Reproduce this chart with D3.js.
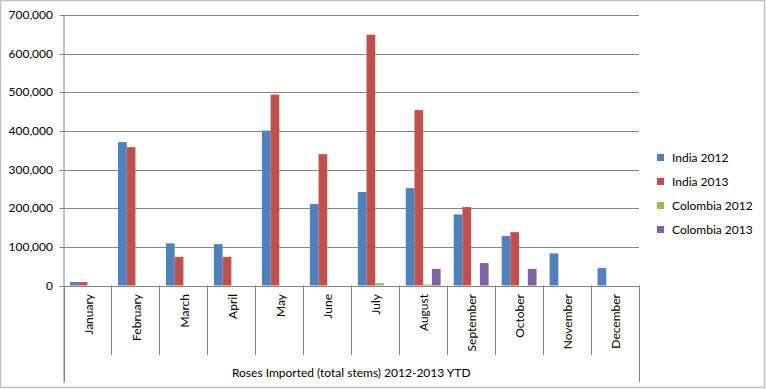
<!DOCTYPE html>
<html>
<head>
<meta charset="utf-8">
<script src="https://cdn.jsdelivr.net/npm/d3@7"></script>
<style>
  body { margin: 0; background: #fff; }
  text { font-family: Lato, "Open Sans", sans-serif; fill: #000; }
</style>
</head>
<body>
<div id="chart-area"></div>
<script>
// dane
var months = ["January", "February", "March", "April", "May", "June",
              "July", "August", "September", "October", "November", "December"];
var seriesNames = ["India 2012", "India 2013", "Colombia 2012", "Colombia 2013"];
var india2012 = [9000, 371000, 109000, 107000, 401000, 211000, 242000, 252000, 184000, 128000, 83000, 45000];
var india2013 = [9000, 358000, 74000, 74000, 494000, 340000, 649000, 454000, 203000, 138000, 0, 0];
var colombia2012 = [0, 0, 0, 0, 0, 0, 6000, 2500, 0, 0, 0, 0];
var colombia2013 = [0, 0, 0, 0, 0, 0, 0, 43000, 58000, 43000, 0, 0];
var yTicks = [0, 100000, 200000, 300000, 400000, 500000, 600000, 700000];
var axisTitle = "Roses Imported (total stems) 2012-2013 YTD";

var colors = ["#4F81BD", "#C0504D", "#9BBB59", "#8064A2"];
var allSeries = [india2012, india2013, colombia2012, colombia2013];

var data = months.map(function(m, i) {
    return {
        month: m,
        values: seriesNames.map(function(s, j) { return { name: s, value: allSeries[j][i] }; })
    };
});

var W = 767, H = 389;
var plotLeft = 63.5, plotRight = 639, plotTop = 15, plotBottom = 285.5;

var svg = d3.select("#chart-area")
    .append("svg")
    .attr("width", W)
    .attr("height", H);

// ramka
svg.append("rect")
    .attr("x", 0.5).attr("y", 0.5)
    .attr("width", 764).attr("height", 387)
    .attr("fill", "#fff")
    .attr("stroke", "#BFBFBF")
    .attr("stroke-width", 1.5);

var x0 = d3.scaleBand()
    .domain(months)
    .range([plotLeft, plotRight])
    .padding(0);

var x1 = d3.scaleBand()
    .domain(seriesNames)
    .range([0, x0.bandwidth()])
    .paddingInner(0)
    .paddingOuter(0.75);

var y = d3.scaleLinear()
    .domain([0, 700000])
    .range([plotBottom, plotTop]);

// linie siatki
svg.append("g")
    .selectAll("line")
    .data(yTicks)
    .enter()
    .append("line")
    .attr("x1", plotLeft - 4)
    .attr("x2", plotRight)
    .attr("y1", function(d) { return Math.round(y(d)) + 0.5; })
    .attr("y2", function(d) { return Math.round(y(d)) + 0.5; })
    .attr("stroke", "#868686")
    .attr("stroke-width", 1);

// os y
svg.append("line")
    .attr("x1", plotLeft + 0.5).attr("x2", plotLeft + 0.5)
    .attr("y1", plotTop).attr("y2", 383)
    .attr("stroke", "#868686");

svg.append("g")
    .selectAll("text")
    .data(yTicks)
    .enter()
    .append("text")
    .attr("x", 53)
    .attr("y", function(d) { return y(d); })
    .attr("dy", "0.35em")
    .attr("text-anchor", "end")
    .style("font-size", "12px")
    .text(function(d) { return d3.format(",")(d); });

// slupki
var groups = svg.append("g")
    .selectAll("g")
    .data(data)
    .enter()
    .append("g")
    .attr("transform", function(d) { return "translate(" + x0(d.month) + ",0)"; });

groups.selectAll("rect")
    .data(function(d) { return d.values.filter(function(v) { return v.value > 0; }); })
    .enter()
    .append("rect")
    .attr("x", function(d) { return x1(d.name); })
    .attr("y", function(d) { return y(d.value); })
    .attr("width", x1.bandwidth())
    .attr("height", function(d) { return plotBottom - y(d.value); })
    .attr("fill", function(d) { return colors[seriesNames.indexOf(d.name)]; });

// os x - podzialki miedzy miesiacami
var dividers = months.map(function(m) { return x0(m); }).concat([plotRight]);
svg.append("g")
    .selectAll("line")
    .data(dividers)
    .enter()
    .append("line")
    .attr("x1", function(d) { return Math.round(d) + 0.5; })
    .attr("x2", function(d) { return Math.round(d) + 0.5; })
    .attr("y1", plotBottom)
    .attr("y2", function(d, i) { return (i === 0 || i === dividers.length - 1) ? 382 : 355; })
    .attr("stroke", "#868686");

svg.append("line")
    .attr("x1", plotLeft).attr("x2", plotRight)
    .attr("y1", Math.round(plotBottom) + 0.5).attr("y2", Math.round(plotBottom) + 0.5)
    .attr("stroke", "#868686");

svg.append("g")
    .selectAll("text")
    .data(months)
    .enter()
    .append("text")
    .attr("transform", function(d) {
        return "translate(" + (x0(d) + x0.bandwidth() / 2 + 1) + ",294) rotate(-90)";
    })
    .attr("dy", "0.35em")
    .attr("text-anchor", "end")
    .style("font-size", "12px")
    .text(function(d) { return d; });

svg.append("text")
    .attr("x", (plotLeft + plotRight) / 2)
    .attr("y", 373)
    .attr("dy", "0.35em")
    .attr("text-anchor", "middle")
    .style("font-size", "12px")
    .text(axisTitle);

// legenda
var legend = svg.append("g")
    .selectAll("g")
    .data(seriesNames)
    .enter()
    .append("g")
    .attr("transform", function(d, i) { return "translate(657," + (157.5 + i * 24) + ")"; });

legend.append("rect")
    .attr("x", 0).attr("y", -3.5)
    .attr("width", 7).attr("height", 7)
    .attr("fill", function(d, i) { return colors[i]; });

legend.append("text")
    .attr("x", 15)
    .attr("y", 0)
    .attr("dy", "0.35em")
    .style("font-size", "12px")
    .text(function(d) { return d; });
</script>
</body>
</html>
